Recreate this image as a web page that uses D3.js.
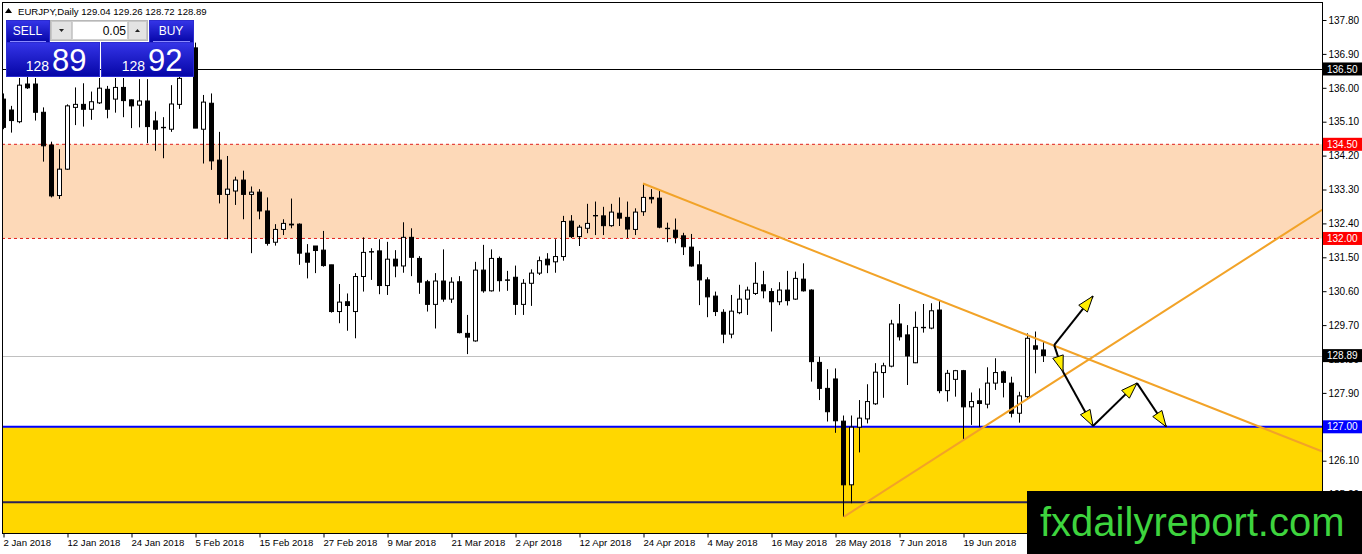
<!DOCTYPE html>
<html>
<head>
<meta charset="utf-8">
<script src="https://cdn.jsdelivr.net/npm/d3@7"></script>
<style>
  html, body { margin: 0; padding: 0; background: #fff; overflow: hidden; }
  svg { display: block; }
  text { font-family: 'Liberation Sans', Arial, sans-serif; }
</style>
</head>
<body>
<svg id="chart" width="1362" height="554"></svg>
<script>
'use strict';

// Daily bars, 2 Jan 2018 .. 3 Jul 2018 (weekdays)
var dates = d3.timeDay.range(new Date(2018, 0, 2), new Date(2018, 6, 4))
  .filter(function(d) { return d.getDay() % 6 !== 0 })

var open = [135.70,135.41,135.10,136.10,136.10,135.35,134.48,133.14,133.84,135.48,
  135.56,135.43,135.60,135.96,135.70,136.01,135.68,135.54,135.65,135.12,
  134.94,134.90,135.56,136.45,137.06,134.90,135.59,134.08,133.17,133.26,
  133.55,133.17,133.23,132.73,131.90,132.24,132.38,132.38,131.61,131.80,
  131.69,131.30,130.06,130.32,130.06,130.99,131.65,131.67,130.75,131.45,
  131.27,132.03,131.47,130.85,130.25,130.87,130.39,130.85,129.48,129.28,
  131.16,130.61,131.47,130.90,130.97,130.25,130.81,131.08,131.45,131.38,
  131.52,132.46,132.05,132.27,132.60,132.60,132.34,132.67,132.56,132.24,
  132.71,133.09,133.07,132.27,132.22,132.07,131.77,131.30,130.90,130.47,
  130.04,129.46,130.03,130.39,130.54,130.77,130.59,130.32,130.63,130.39,
  130.92,130.63,128.71,128.02,128.27,127.15,125.46,126.99,127.21,127.61,
  128.44,128.61,129.73,129.44,128.70,129.63,129.62,130.10,127.96,128.26,
  128.49,127.53,127.69,127.60,128.16,128.46,128.16,127.36,127.80,129.15,
  129.04]
var high = [135.85,135.52,136.26,136.29,136.26,135.48,134.57,134.37,135.56,136.01,
  136.12,135.90,136.26,136.05,136.26,136.26,135.69,136.23,136.23,135.37,
  135.22,136.07,136.55,137.45,137.20,135.81,135.85,134.83,134.19,133.64,
  133.80,133.38,133.31,133.09,132.38,132.51,133.06,132.40,131.85,131.80,
  132.20,131.30,130.79,130.54,131.08,132.03,131.74,131.98,131.91,131.69,
  132.43,132.27,131.53,130.90,131.08,131.71,130.97,131.00,129.97,131.38,
  131.83,131.71,131.52,131.14,131.28,130.92,131.18,131.52,131.61,131.98,
  132.60,132.62,132.36,132.92,132.98,132.84,132.92,133.09,132.98,132.80,
  133.46,133.31,133.27,132.42,132.53,132.15,132.12,131.67,130.97,130.59,
  130.12,130.50,130.77,130.72,131.37,131.14,130.68,130.84,131.14,131.12,
  131.34,130.65,128.86,128.53,128.55,127.30,127.30,127.71,128.13,128.69,
  128.70,129.84,130.26,129.70,130.06,130.26,130.28,130.35,128.51,128.51,
  128.51,127.91,128.02,128.58,128.82,128.49,128.33,127.93,129.48,129.53,
  129.26]
var low = [134.90,134.81,135.06,135.97,135.13,134.04,133.09,133.05,133.82,135.01,
  134.97,135.15,135.57,135.19,135.34,135.22,134.93,134.95,134.53,134.33,
  134.13,134.83,135.44,136.40,134.93,133.99,133.82,132.93,131.98,132.89,
  132.51,131.61,132.51,131.81,131.81,132.09,132.27,131.30,130.94,131.08,
  131.25,130.03,129.75,129.55,129.35,130.59,130.90,130.52,130.50,130.97,
  131.09,131.00,130.53,130.06,129.61,130.32,130.29,129.48,128.93,129.26,
  130.56,130.59,130.59,130.61,129.97,129.97,130.21,131.03,131.08,131.09,
  131.41,132.01,131.80,132.14,132.09,132.09,132.31,132.33,132.01,132.09,
  132.60,132.93,132.27,131.90,131.87,131.56,131.25,130.23,129.91,129.94,
  129.22,129.35,129.99,129.97,130.50,130.41,129.53,130.23,130.22,130.37,
  130.59,128.20,127.71,127.14,126.84,124.61,124.97,126.32,127.09,127.58,
  127.77,128.58,129.29,128.11,128.69,129.50,129.59,127.89,127.67,127.80,
  126.65,127.05,127.00,127.49,127.98,127.78,127.25,127.11,127.76,128.42,
  128.72]
var close = [134.95,135.13,136.07,136.00,135.35,134.46,133.13,133.84,135.52,135.56,
  135.43,135.63,135.99,135.43,136.01,135.66,135.52,135.65,134.97,134.90,
  134.95,135.57,136.25,137.00,134.93,135.62,134.06,133.17,133.31,133.55,
  133.17,133.23,132.73,131.87,132.24,132.40,132.36,131.61,131.37,131.68,
  131.28,130.06,130.31,130.22,130.99,131.63,131.64,130.75,131.45,131.27,
  132.03,131.50,130.84,130.25,130.87,130.39,130.84,129.50,129.38,131.16,
  130.61,131.47,130.88,130.89,130.25,130.81,131.08,131.41,131.30,131.52,
  132.45,132.05,132.30,132.40,132.61,132.34,132.70,132.54,132.25,132.70,
  133.09,133.05,132.30,132.26,132.03,131.78,131.27,130.90,130.45,130.06,
  129.46,130.07,130.39,130.63,130.81,130.61,130.32,130.63,130.35,130.94,
  130.61,128.73,128.02,127.40,127.16,125.46,126.99,127.23,127.67,128.45,
  128.62,129.73,129.39,128.88,129.64,129.64,130.08,127.96,128.42,128.49,
  127.53,127.67,127.62,128.16,128.44,128.18,127.36,127.82,129.35,129.06,
  128.89]

var dateLabels = ['2 Jan 2018','12 Jan 2018','24 Jan 2018','5 Feb 2018','15 Feb 2018',
  '27 Feb 2018','9 Mar 2018','21 Mar 2018','2 Apr 2018','12 Apr 2018','24 Apr 2018',
  '4 May 2018','16 May 2018','28 May 2018','7 Jun 2018','19 Jun 2018']
var priceTicks = [137.8,136.9,136.0,135.1,134.2,133.3,132.4,131.5,130.6,129.7,
  128.8,127.9,127.0,126.1,125.2]

// drawn objects, in price units
var supplyZone = [134.5, 132.0]
var demandZone = [127.0, 123.5]
var topLevel = 136.5
var supportLevels = [127.0, 125.0]
var bidPrice = 128.89
var askPrice = 128.92
var tagPrices = [136.5, 134.5, 132.0, 128.89, 127.0]
// trend lines as [bar index, price] anchors, extended to the right
var fallingLine = [[80, 133.46], [130, 129.27]]
var risingLine = [[105.1, 124.61], [150, 130.73]]
// projected path arrows, [bar index, price]
var arrowPaths = [
  [[131.4, 129.17], [136.25, 130.47]],
  [[131.4, 129.17], [132.5, 128.46]],
  [[132.5, 128.46], [136.25, 127.02]],
  [[136.25, 127.02], [141.75, 128.16]],
  [[141.75, 128.16], [145.4, 127.0]]
]

var plot = {left: 2, top: 2, right: 1322, bottom: 533}
var svg = d3.select('#chart')

var x = d3.scaleLinear()
  .domain([0, dates.length - 1])
  .range([3, 3 + 8 * (dates.length - 1)])
var y = d3.scaleLinear()
  .domain([137.8, 125.2])
  .range([20, 494.6])

svg.append('defs').append('clipPath').attr('id', 'plotclip')
  .append('rect')
    .attr('x', plot.left).attr('y', plot.top)
    .attr('width', plot.right - plot.left).attr('height', plot.bottom - plot.top)

var grad = svg.select('defs').append('linearGradient')
  .attr('id', 'blue').attr('x1', 0).attr('y1', 0).attr('x2', 0).attr('y2', 1)
grad.append('stop').attr('offset', '0%').attr('stop-color', '#3535e8')
grad.append('stop').attr('offset', '100%').attr('stop-color', '#0505a6')

var g = svg.append('g').attr('clip-path', 'url(#plotclip)')

// zones
g.append('rect')
  .attr('x', plot.left).attr('width', plot.right - plot.left)
  .attr('y', y(supplyZone[0])).attr('height', y(supplyZone[1]) - y(supplyZone[0]))
  .attr('fill', '#fdd9b8')
g.append('rect')
  .attr('x', plot.left).attr('width', plot.right - plot.left)
  .attr('y', y(demandZone[0])).attr('height', y(demandZone[1]) - y(demandZone[0]))
  .attr('fill', '#ffd700')

supplyZone.forEach(function(v) {
  g.append('line')
    .attr('x1', plot.left).attr('x2', plot.right)
    .attr('y1', y(v)).attr('y2', y(v))
    .attr('stroke', '#e0201c').attr('stroke-dasharray', '3,3')
})

g.append('line')
  .attr('x1', plot.left).attr('x2', plot.right)
  .attr('y1', Math.round(y(topLevel)) + 0.5).attr('y2', Math.round(y(topLevel)) + 0.5)
  .attr('stroke', '#000')
g.append('line')
  .attr('x1', plot.left).attr('x2', plot.right)
  .attr('y1', Math.round(y(bidPrice)) + 0.5).attr('y2', Math.round(y(bidPrice)) + 0.5)
  .attr('stroke', '#c0c0c0')

g.selectAll('.support').data(supportLevels).enter().append('line')
  .attr('class', 'support')
  .attr('x1', plot.left).attr('x2', plot.right)
  .attr('y1', function(d) { return y(d) }).attr('y2', function(d) { return y(d) })
  .attr('stroke', function(d, i) { return i === 0 ? '#0000ff' : '#2a2256' })
  .attr('stroke-width', 2)

// candles
var bars = d3.range(dates.length)
var candle = g.selectAll('.candle').data(bars).enter().append('g').attr('class', 'candle')
candle.append('line')
  .attr('x1', function(i) { return x(i) + 0.5 }).attr('x2', function(i) { return x(i) + 0.5 })
  .attr('y1', function(i) { return y(high[i]) }).attr('y2', function(i) { return y(low[i]) })
  .attr('stroke', '#000')
candle.append('rect')
  .attr('x', function(i) { return x(i) - 1.5 })
  .attr('width', 4)
  .attr('y', function(i) { return y(Math.max(open[i], close[i])) })
  .attr('height', function(i) { return Math.abs(y(open[i]) - y(close[i])) })
  .attr('fill', function(i) { return close[i] >= open[i] ? '#fff' : '#000' })
  .attr('stroke', '#000')

// trend lines
function ray(pts) {
  var a = pts[0], b = pts[1]
  var iEnd = x.invert(plot.right + 5)
  var pEnd = a[1] + (b[1] - a[1]) * (iEnd - a[0]) / (b[0] - a[0])
  return [[x(a[0]), y(a[1])], [x(iEnd), y(pEnd)]]
}
;[fallingLine, risingLine].forEach(function(pts) {
  g.append('path')
    .attr('d', d3.line()(ray(pts)))
    .attr('stroke', '#f2a328').attr('stroke-width', 2).attr('fill', 'none')
})

// arrows
function head(p, q) {
  var dx = q[0] - p[0], dy = q[1] - p[1], len = Math.hypot(dx, dy)
  var ux = dx / len, uy = dy / len
  var bx = q[0] - ux * 16, by = q[1] - uy * 16
  return [q, [bx - uy * 5.5, by + ux * 5.5], [bx + uy * 5.5, by - ux * 5.5]]
}
arrowPaths.forEach(function(a) {
  var p = [x(a[0][0]), y(a[0][1])], q = [x(a[1][0]), y(a[1][1])]
  g.append('path').attr('d', d3.line()([p, q]))
    .attr('stroke', '#000').attr('stroke-width', 2).attr('fill', 'none')
  g.append('path').attr('d', d3.line()(head(p, q)) + 'Z')
    .attr('fill', '#ffee00').attr('stroke', '#000').attr('stroke-width', 1)
    .attr('stroke-linejoin', 'miter')
})

// frame
svg.append('rect')
  .attr('x', plot.left + 0.5).attr('y', plot.top + 0.5)
  .attr('width', plot.right - plot.left).attr('height', plot.bottom - plot.top)
  .attr('fill', 'none').attr('stroke', '#000')

// price axis
var yAxis = svg.append('g')
  .attr('transform', 'translate(' + (plot.right + 0.5) + ',0)')
  .call(d3.axisRight(y).tickValues(priceTicks).tickFormat(d3.format('.2f'))
    .tickSize(4).tickPadding(2).tickSizeOuter(0))
yAxis.select('.domain').remove()
yAxis.selectAll('text').attr('font-size', 10).attr('font-family', "'Liberation Sans', Arial, sans-serif")
  .attr('fill', '#000')

// time axis
var fmt = d3.timeFormat('%-d %b %Y')
var tickIdx = bars.filter(function(i) { return dateLabels.indexOf(fmt(dates[i])) >= 0 })
var xAxis = svg.append('g')
  .attr('transform', 'translate(0,' + (plot.bottom + 0.5) + ')')
  .call(d3.axisBottom(x).tickValues(tickIdx).tickFormat(function(i) { return fmt(dates[i]) })
    .tickSize(4).tickPadding(2).tickSizeOuter(0))
xAxis.select('.domain').remove()
xAxis.selectAll('.tick line').attr('transform', 'translate(0.5,0)')
xAxis.selectAll('text').attr('font-size', 9.6).attr('font-family', "'Liberation Sans', Arial, sans-serif")
  .attr('fill', '#000').attr('text-anchor', 'start')

// price tags on the axis
var tagColor = {136.5: '#000', 134.5: '#ff0000', 132: '#ff0000', 128.89: '#000', 127: '#0000ff'}
tagPrices.forEach(function(v) {
  var cy = y(v)
  svg.append('rect')
    .attr('x', plot.right + 1).attr('y', cy - 6.5).attr('width', 39).attr('height', 13)
    .attr('fill', tagColor[v])
  svg.append('text')
    .attr('x', plot.right + 5).attr('y', cy + 3.6)
    .attr('font-size', 10).attr('fill', '#fff')
    .text(d3.format('.2f')(v))
})

// header
var last = dates.length - 1
svg.append('path').attr('d', 'M5,13L8.5,8L12,13Z').attr('fill', '#000')
svg.append('text')
  .attr('x', 18).attr('y', 15).attr('font-size', 9.6).attr('fill', '#000')
  .text('EURJPY,Daily  ' + [open[last], high[last], low[last], close[last]]
    .map(d3.format('.2f')).join(' '))

// one-click trading panel
var panel = svg.append('g')
function blueBox(px, py, w, h) {
  panel.append('rect').attr('x', px + 0.5).attr('y', py + 0.5).attr('width', w).attr('height', h)
    .attr('fill', 'url(#blue)').attr('stroke', '#2b2bd0')
}
blueBox(6, 20, 43, 22)
blueBox(149, 20, 44, 22)
blueBox(6, 42, 93, 34)
blueBox(101, 42, 92, 34)
panel.append('line').attr('x1', 10).attr('x2', 46).attr('y1', 41.5).attr('y2', 41.5).attr('stroke', '#8a8aff')
panel.append('line').attr('x1', 153).attr('x2', 190).attr('y1', 41.5).attr('y2', 41.5).attr('stroke', '#8a8aff')
panel.append('text').attr('x', 27.5).attr('y', 35).attr('text-anchor', 'middle')
  .attr('font-size', 12).attr('fill', '#fff').text('SELL')
panel.append('text').attr('x', 171).attr('y', 35).attr('text-anchor', 'middle')
  .attr('font-size', 12).attr('fill', '#fff').text('BUY')

panel.append('rect').attr('x', 50.5).attr('y', 20.5).attr('width', 97).attr('height', 20)
  .attr('fill', '#f4f4f4').attr('stroke', '#b8b8b8')
panel.append('rect').attr('x', 51.5).attr('y', 21.5).attr('width', 20).attr('height', 18)
  .attr('fill', '#e3e3e3').attr('stroke', '#c8c8c8')
panel.append('rect').attr('x', 72.5).attr('y', 21.5).attr('width', 55).attr('height', 18)
  .attr('fill', '#fff').attr('stroke', '#d0d0d0')
panel.append('rect').attr('x', 128.5).attr('y', 21.5).attr('width', 18).attr('height', 18)
  .attr('fill', '#e3e3e3').attr('stroke', '#c8c8c8')
panel.append('path').attr('d', 'M59,29L64,29L61.5,32Z').attr('fill', '#222')
panel.append('path').attr('d', 'M135,32L140,32L137.5,29Z').attr('fill', '#222')
panel.append('text').attr('x', 126).attr('y', 35).attr('text-anchor', 'end')
  .attr('font-size', 12).attr('fill', '#000').text('0.05')

function quote(v, xr) {
  var s = d3.format('.2f')(v).split('.')
  panel.append('text').attr('x', xr).attr('y', 71).attr('text-anchor', 'end')
    .attr('font-size', 14).attr('fill', '#fff').text(s[0])
  panel.append('text').attr('x', xr + 3).attr('y', 71)
    .attr('font-size', 31).attr('fill', '#fff').text(s[1])
}
quote(bidPrice, 49)
quote(askPrice, 145)

// watermark
svg.append('rect').attr('x', 1027).attr('y', 491).attr('width', 335).attr('height', 63).attr('fill', '#000')
svg.append('text').attr('x', 1040).attr('y', 536)
  .attr('font-size', 40).attr('fill', '#3ed43e').text('fxdailyreport.com')
</script>
</body>
</html>
